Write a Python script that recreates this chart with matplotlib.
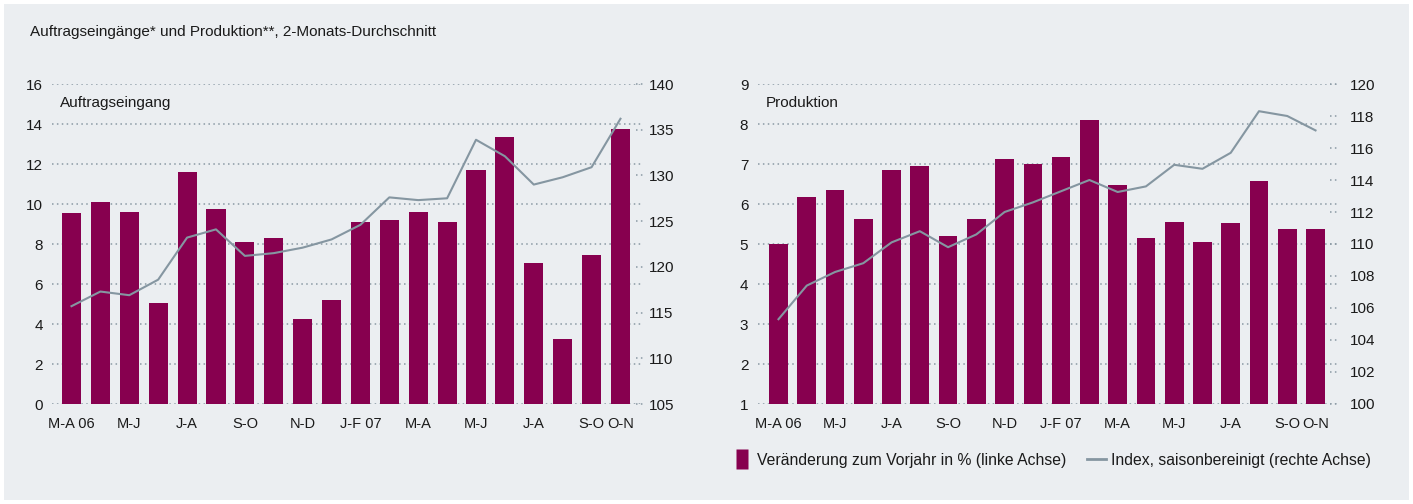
import numpy as np
import matplotlib.pyplot as plt
from matplotlib.lines import Line2D

plt.rcParams['font.family'] = ['Liberation Sans', 'DejaVu Sans']

# Daten (2-Monats-Durchschnitt, M-A 06 bis O-N 07)
monate = ['M-A 06', 'A-M', 'M-J', 'J-J', 'J-A', 'A-S', 'S-O', 'O-N', 'N-D', 'D-J',
          'J-F 07', 'F-M', 'M-A', 'A-M', 'M-J', 'J-J', 'J-A', 'A-S', 'S-O', 'O-N']
tick_pos = [0, 2, 4, 6, 8, 10, 12, 14, 16, 18, 19]

auftrag_vj = [9.55, 10.1, 9.6, 5.05, 11.6, 9.75, 8.1, 8.3, 4.25, 5.2,
              9.1, 9.2, 9.6, 9.1, 11.7, 13.35, 7.05, 3.25, 7.45, 13.75]
auftrag_idx = [115.7, 117.3, 116.9, 118.6, 123.2, 124.1, 121.2, 121.5, 122.1, 123.0,
               124.6, 127.6, 127.3, 127.5, 133.9, 132.1, 129.0, 129.8, 130.9, 136.2]

prod_vj = [5.0, 6.18, 6.36, 5.63, 6.85, 6.95, 5.19, 5.63, 7.12, 7.0,
           7.17, 8.09, 6.48, 5.14, 5.56, 5.04, 5.53, 6.58, 5.38, 5.38]
prod_idx = [105.3, 107.4, 108.25, 108.8, 110.1, 110.8, 109.8, 110.6, 112.0, 112.6,
            113.3, 114.0, 113.25, 113.6, 114.95, 114.7, 115.7, 118.3, 118.0, 117.1]

bordeaux = '#87004f'
grau = '#8596a1'
gitter = '#8a99a4'
hintergrund = '#ebeef1'
textfarbe = '#1a1a1a'
fs = 11

W, H = 1413, 504
fig = plt.figure(figsize=(W / 100, H / 100), dpi=100)
fig.patch.set_facecolor('white')
# grauer Hintergrund mit schmalem weissen Rand
fig.patches.append(plt.Rectangle((4 / W, 4 / H), 1 - 8 / W, 1 - 8 / H, transform=fig.transFigure,
                                 facecolor=hintergrund, edgecolor='none', zorder=-10))

fig.text(30 / W, 1 - 32 / H, 'Auftragseingänge* und Produktion**, 2-Monats-Durchschnitt',
         fontsize=fs, color=textfarbe, va='center', ha='left')


def panel(x0, x1, werte, index, ylim, yticks, ylim2, yticks2, titel, xlim, pad_l, pad_r):
    ax = fig.add_axes([x0 / W, 1 - 404 / H, (x1 - x0) / W, 320 / H])
    ax.set_facecolor('none')
    x = np.arange(len(werte))
    ax.bar(x, werte, width=0.66, color=bordeaux, zorder=2)
    ax.set_xlim(*xlim)
    ax.set_ylim(*ylim)
    ax.set_yticks(yticks)
    ax.set_xticks(tick_pos)
    ax.set_xticklabels([monate[i] for i in tick_pos])
    ax.tick_params(axis='both', length=0, labelsize=fs, colors=textfarbe)
    ax.tick_params(axis='y', pad=pad_l)
    ax.tick_params(axis='x', pad=9, labelsize=10.5)
    ax.set_axisbelow(True)
    ax.yaxis.grid(True, color=gitter, linestyle=(0, (1, 2.2)), linewidth=1.1)
    for s in ax.spines.values():
        s.set_visible(False)
    ax.text(0.014, 0.94, titel, transform=ax.transAxes, fontsize=fs, color=textfarbe,
            va='center', ha='left')

    ax2 = ax.twinx()
    ax2.plot(x, index, color=grau, linewidth=1.5, zorder=3)
    ax2.set_ylim(*ylim2)
    ax2.set_yticks(yticks2)
    ax2.tick_params(axis='y', length=0, labelsize=fs, colors=textfarbe, pad=pad_r)
    for s in ax2.spines.values():
        s.set_visible(False)
    # kleine gepunktete Markierungen an der rechten Achse
    ax2.hlines(yticks2, 0.988, 1.0, transform=ax2.get_yaxis_transform(), color=gitter,
               linestyle=(0, (1, 2.2)), linewidth=1.1, clip_on=False)
    return ax, ax2


ax_a, ax_a2 = panel(52, 643, auftrag_vj, auftrag_idx, (0, 16), np.arange(0, 17, 2),
                    (105, 140), np.arange(105, 141, 5), 'Auftragseingang',
                    (-0.675, 19.78), 6.5, 4.5)
ax_p, ax_p2 = panel(758, 1337, prod_vj, prod_idx, (1, 9), np.arange(1, 10, 1),
                    (100, 120), np.arange(100, 121, 2), 'Produktion',
                    (-0.725, 19.76), 7, 9)

# Legende: hohes Rechteck fuer die Balken, kurze Linie fuer den Index
rechteck = [(-0.32, -0.5), (0.32, -0.5), (0.32, 0.5), (-0.32, 0.5), (-0.32, -0.5)]
handles = [Line2D([0], [0], linestyle='none', marker=rechteck, markersize=14,
                  markerfacecolor=bordeaux, markeredgecolor='none'),
           Line2D([0], [0], color=grau, linewidth=2)]
fig.legend(handles, ['Veränderung zum Vorjahr in % (linke Achse)',
                     'Index, saisonbereinigt (rechte Achse)'],
           loc='center left', bbox_to_anchor=(733 / W, 1 - 460 / H), ncol=2, frameon=False,
           fontsize=11.3, handlelength=1.2, handletextpad=0.35,
           columnspacing=1.3, labelcolor=textfarbe, borderaxespad=0, borderpad=0)

fig.savefig('out.png', dpi=100, facecolor=fig.get_facecolor())
